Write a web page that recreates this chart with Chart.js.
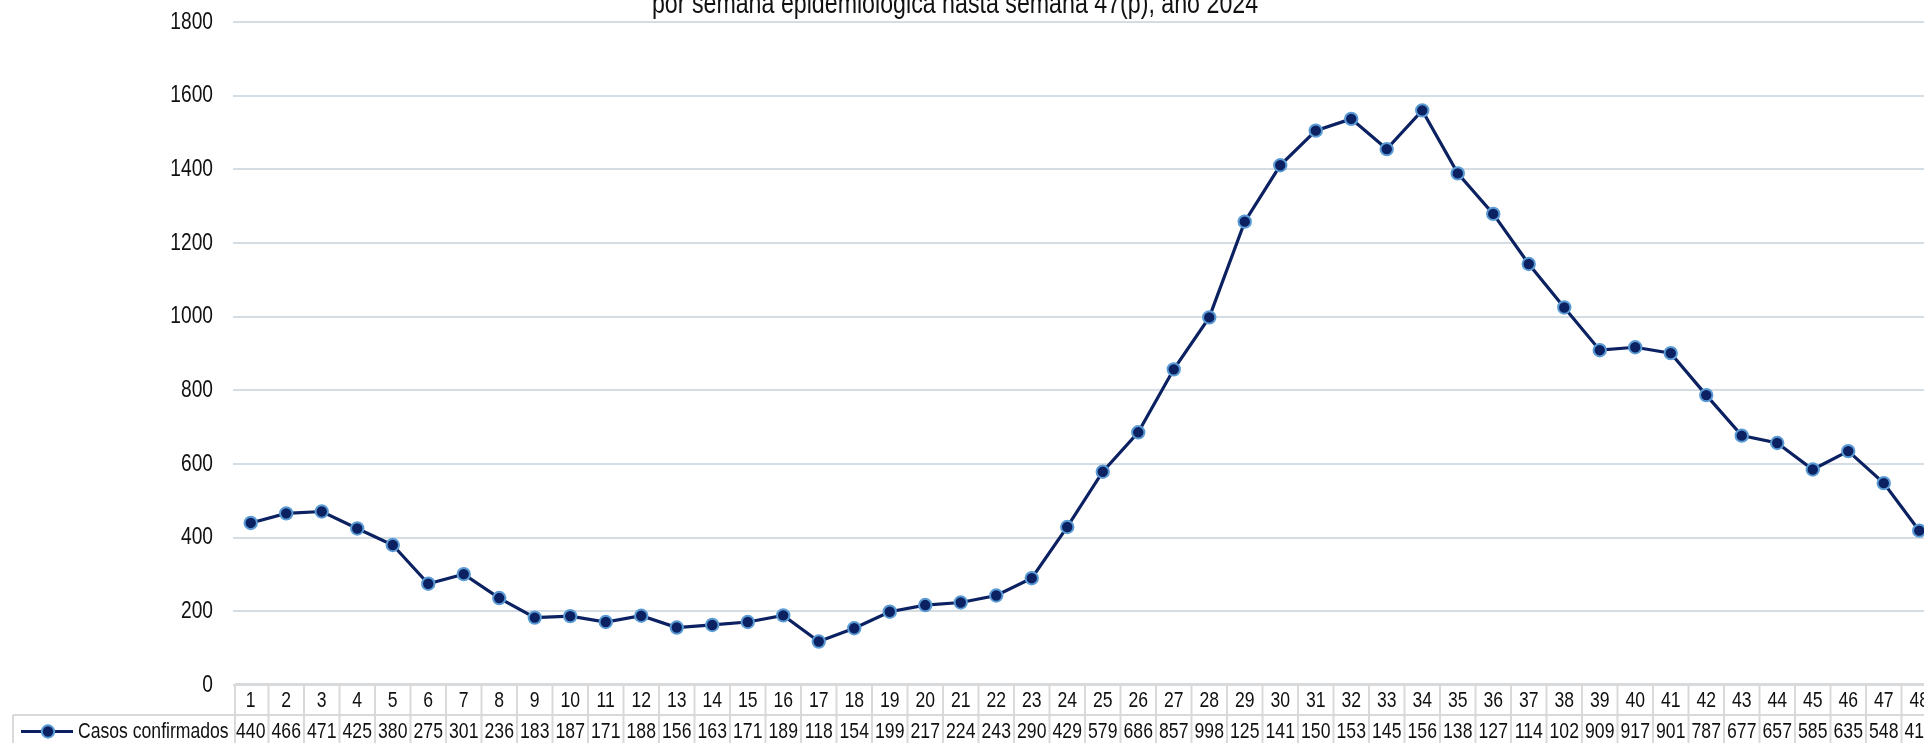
<!DOCTYPE html>
<html lang="es">
<head>
<meta charset="utf-8">
<title>Casos confirmados por semana epidemiológica</title>
<script src="https://cdn.jsdelivr.net/npm/chart.js@4.4.1/dist/chart.umd.min.js"></script>
<style>
  html, body { margin: 0; padding: 0; background: #ffffff; overflow: hidden; }
  #contenedor { position: relative; width: 1950px; height: 743px; }
</style>
</head>
<body>
<div id="contenedor">
  <canvas id="graficoCasos" width="1950" height="743"></canvas>
</div>
<script>
const semanas = [
  "1", "2", "3", "4", "5", "6", "7", "8", "9", "10", "11", "12",
  "13", "14", "15", "16", "17", "18", "19", "20", "21", "22", "23", "24",
  "25", "26", "27", "28", "29", "30", "31", "32", "33", "34", "35", "36",
  "37", "38", "39", "40", "41", "42", "43", "44", "45", "46", "47", "48"
];

const casosConfirmados = [
  440, 466, 471, 425, 380, 275, 301, 236, 183, 187, 171, 188,
  156, 163, 171, 189, 118, 154, 199, 217, 224, 243, 290, 429,
  579, 686, 857, 998, 1258, 1411, 1505, 1537, 1455, 1560, 1389, 1279,
  1143, 1025, 909, 917, 901, 787, 677, 657, 585, 635, 548, 419
];

const ejeYMin = 0;
const ejeYMax = 1800;
const ejeYPaso = 200;

const nombreSerie = "Casos confirmados";
const tituloLinea = "por semana epidemiológica hasta semana 47(p), año 2024";

// no hay fuente estrecha instalada: se comprime la normal en horizontal
const FUENTE = "'Liberation Sans', Arial, sans-serif";
const ESTRECHO = 0.8;
const AZUL = "#0b2161";
const AZUL_BORDE = "#5b9bd5";
const GRIS_TABLA = "#d9d9d9";
const TEXTO = "#111111";

function textoEstrecho(ctx, texto, x, y, alineacion) {
  ctx.save();
  ctx.translate(x, y);
  ctx.scale(ESTRECHO, 1);
  ctx.textAlign = alineacion;
  ctx.fillText(texto, 0, 0);
  ctx.restore();
}

function dibujarMarcador(ctx, x, y) {
  ctx.beginPath();
  ctx.arc(x, y, 6.2, 0, Math.PI * 2);
  ctx.fillStyle = AZUL;
  ctx.fill();
  ctx.lineWidth = 2;
  ctx.strokeStyle = AZUL_BORDE;
  ctx.stroke();
}

// recorta el texto hasta que quepa en la celda (como la tabla original)
function textoQueCabe(ctx, texto, ancho) {
  let t = texto;
  while (t.length > 1 && ctx.measureText(t).width * ESTRECHO > ancho) {
    t = t.slice(0, -1);
  }
  return t;
}

const pluginTitulo = {
  id: "tituloParcial",
  afterDraw(chart, args, opts) {
    const ctx = chart.ctx;
    ctx.save();
    ctx.font = `${opts.size}px ${FUENTE}`;
    ctx.fillStyle = TEXTO;
    ctx.textBaseline = "alphabetic";
    textoEstrecho(ctx, opts.texto, opts.x, opts.y, "center");
    ctx.restore();
  }
};

const pluginEjeY = {
  id: "etiquetasEjeY",
  afterDraw(chart) {
    const ctx = chart.ctx;
    const ejeY = chart.scales.y;
    ctx.save();
    ctx.font = `24px ${FUENTE}`;
    ctx.fillStyle = TEXTO;
    ctx.textBaseline = "middle";
    ejeY.ticks.forEach(t => {
      textoEstrecho(ctx, String(t.value), chart.chartArea.left - 20, ejeY.getPixelForValue(t.value), "right");
    });
    ctx.restore();
  }
};

const pluginTabla = {
  id: "tablaDatos",
  afterDraw(chart) {
    const ctx = chart.ctx;
    const ejeX = chart.scales.x;
    const area = chart.chartArea;
    const mitad = (ejeX.getPixelForValue(1) - ejeX.getPixelForValue(0)) / 2;
    const altoFila = 31;
    const arriba = area.bottom - 1;
    const medio = arriba + altoFila;
    const abajo = medio + altoFila;
    const izqTabla = ejeX.getPixelForValue(0) - mitad + 2;
    const derTabla = ejeX.getPixelForValue(semanas.length - 1) + mitad;
    const izqLeyenda = 13;

    ctx.save();
    ctx.strokeStyle = GRIS_TABLA;
    ctx.lineWidth = 2;

    ctx.beginPath();
    ctx.moveTo(izqTabla, arriba);
    ctx.lineTo(derTabla, arriba);
    ctx.moveTo(izqLeyenda, medio);
    ctx.lineTo(derTabla, medio);
    ctx.moveTo(izqLeyenda, abajo);
    ctx.lineTo(derTabla, abajo);
    ctx.moveTo(izqLeyenda, medio);
    ctx.lineTo(izqLeyenda, abajo);
    ctx.moveTo(izqTabla, arriba);
    ctx.lineTo(izqTabla, abajo);
    semanas.forEach((s, i) => {
      const x = ejeX.getPixelForValue(i) + mitad;
      ctx.moveTo(x, arriba);
      ctx.lineTo(x, abajo);
    });
    ctx.stroke();

    ctx.font = `22px ${FUENTE}`;
    ctx.fillStyle = TEXTO;
    ctx.textBaseline = "middle";
    semanas.forEach((s, i) => {
      const x = ejeX.getPixelForValue(i);
      textoEstrecho(ctx, s, x, arriba + altoFila / 2 + 1, "center");
      const valor = textoQueCabe(ctx, String(casosConfirmados[i]), mitad * 2 - 3);
      textoEstrecho(ctx, valor, x, medio + altoFila / 2 + 1, "center");
    });

    // clave de la leyenda
    const yLeyenda = medio + altoFila / 2 + 1;
    ctx.beginPath();
    ctx.moveTo(21, yLeyenda);
    ctx.lineTo(73, yLeyenda);
    ctx.strokeStyle = AZUL;
    ctx.lineWidth = 3;
    ctx.stroke();
    dibujarMarcador(ctx, 48, yLeyenda);

    ctx.fillStyle = TEXTO;
    textoEstrecho(ctx, nombreSerie, 78, yLeyenda, "left");
    ctx.restore();
  }
};

const grafico = new Chart(document.getElementById("graficoCasos"), {
  type: "line",
  data: {
    labels: semanas,
    datasets: [
      {
        label: nombreSerie,
        data: casosConfirmados,
        borderColor: AZUL,
        borderWidth: 3.2,
        pointRadius: 6.2,
        pointBorderWidth: 2,
        pointBackgroundColor: AZUL,
        pointBorderColor: AZUL_BORDE,
        tension: 0
      }
    ]
  },
  options: {
    responsive: false,
    animation: false,
    layout: {
      padding: { top: 22, right: 13, bottom: 0, left: 0 }
    },
    scales: {
      x: {
        offset: true,
        grid: { display: false },
        border: { display: false },
        ticks: { display: false },
        afterFit(scale) {
          scale.height = 58;
        }
      },
      y: {
        min: ejeYMin,
        max: ejeYMax,
        ticks: {
          stepSize: ejeYPaso,
          display: false
        },
        grid: {
          color: "#d3dde3",
          lineWidth: 2,
          drawTicks: false
        },
        border: { display: false },
        afterFit(scale) {
          scale.width = 233;
        }
      }
    },
    plugins: {
      legend: { display: false },
      tooltip: { enabled: false },
      tituloParcial: { texto: tituloLinea, x: 955, y: 13, size: 29 }
    }
  },
  plugins: [pluginTitulo, pluginEjeY, pluginTabla]
});
</script>
</body>
</html>
